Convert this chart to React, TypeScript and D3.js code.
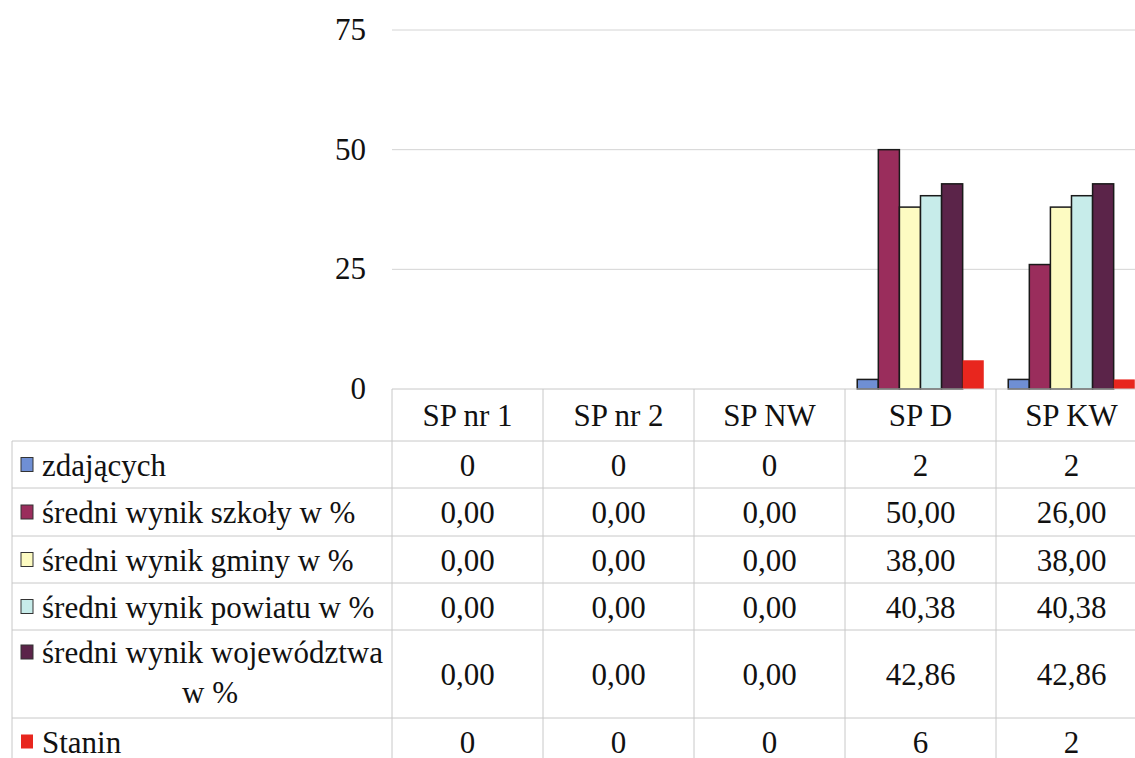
import React from "react";
import * as d3 from "d3";

const categories = ["SP nr 1", "SP nr 2", "SP NW", "SP D", "SP KW"];
const seriesNames = [
  "zdających",
  "średni wynik szkoły w %",
  "średni wynik gminy w %",
  "średni wynik powiatu w %",
  "średni wynik województwa w %",
  "Stanin",
];
const zdajacych = [0, 0, 0, 2, 2];
const szkoly = [0, 0, 0, 50.0, 26.0];
const gminy = [0, 0, 0, 38.0, 38.0];
const powiatu = [0, 0, 0, 40.38, 40.38];
const wojewodztwa = [0, 0, 0, 42.86, 42.86];
const stanin = [0, 0, 0, 6, 2];
const yTicks = [0, 25, 50, 75];

const seriesValues = [zdajacych, szkoly, gminy, powiatu, wojewodztwa, stanin];
const seriesDecimals = [0, 2, 2, 2, 2, 0];
const colors = ["#6f8fd4", "#9a2d5c", "#fdfbc2", "#c7ecea", "#5b2449", "#e8261e"];
const strokes = ["#1a1a1a", "#1a1a1a", "#1a1a1a", "#1a1a1a", "#1a1a1a", "none"];

const W = 1135;
const H = 758;
const FONT = "'Liberation Serif', 'Noto Serif', 'Nimbus Roman', 'FreeSerif', 'Tinos', 'DejaVu Serif', 'Liberation Sans', sans-serif";
const FS = 31;
const txt = { fontFamily: FONT };

export default function App() {
  const x = d3.scaleBand<string>().domain(categories).range([392, 1147]).padding(0);
  const y = d3.scaleLinear().domain([0, 75]).range([389, 30]);
  const inner = d3
    .scaleBand<number>()
    .domain(d3.range(seriesNames.length))
    .range([0, x.bandwidth()])
    .paddingOuter(0.58)
    .paddingInner(0);

  const rowLines = [441, 488, 536, 583, 630, 718, 765];
  const rowCenters = rowLines.slice(0, -1).map((v, i) => (v + rowLines[i + 1]) / 2);
  const headerCenter = (389 + 441) / 2;
  const fmt = (v: number, d: number) => (d === 0 ? d3.format("d")(v) : d3.format(".2f")(v).replace(".", ","));
  const gridColor = "#d4d4d4";
  const tableColor = "#c8c8c8";

  return (
    <svg
      width={W}
      height={H}
      style={{ position: "absolute", left: 0, top: 0, background: "#fff", fontFamily: FONT }}
    >
      <rect x={0} y={0} width={W} height={H} fill="#fff" />
      {yTicks.filter((t) => t > 0).map((t) => (
        <line key={t} x1={392} x2={1147} y1={y(t)} y2={y(t)} stroke={gridColor} strokeWidth={1} />
      ))}
      {yTicks.map((t) => (
        <text key={t} style={txt} x={366} y={y(t) + 10} textAnchor="end" fontSize={FS} fill="#111">
          {t}
        </text>
      ))}
      {categories.map((c, ci) => (
        <g key={c} transform={`translate(${x(c)},0)`}>
          {seriesValues.map((vals, si) =>
            vals[ci] > 0 ? (
              <rect
                key={si}
                x={inner(si)}
                y={y(vals[ci])}
                width={inner.bandwidth()}
                height={y(0) - y(vals[ci])}
                fill={colors[si]}
                stroke={strokes[si]}
                strokeWidth={1.5}
              />
            ) : null
          )}
        </g>
      ))}
      <line x1={392} x2={1147} y1={389} y2={389} stroke={tableColor} />
      {rowLines.map((ly) => (
        <line key={ly} x1={12} x2={1147} y1={ly} y2={ly} stroke={tableColor} />
      ))}
      <line x1={12} x2={12} y1={441} y2={H} stroke={tableColor} />
      {categories.map((c) => (
        <line key={c} x1={x(c)} x2={x(c)} y1={389} y2={H} stroke={tableColor} />
      ))}
      {categories.map((c) => (
        <text key={c} style={txt} x={(x(c) as number) + x.bandwidth() / 2} y={headerCenter + 11} textAnchor="middle" fontSize={FS} fill="#111">
          {c}
        </text>
      ))}
      {seriesNames.map((name, si) => {
        const cy = rowCenters[si];
        const isWoj = si === 4;
        const sqY = isWoj ? 645 : cy - 7;
        return (
          <g key={name}>
            <rect x={21} y={sqY} width={12} height={14} fill={colors[si]} stroke={si === 5 ? "none" : "#333"} strokeWidth={1} />
            {isWoj ? (
              <>
                <text style={txt} x={42} y={663} fontSize={FS} fill="#111">średni wynik województwa</text>
                <text style={txt} x={210} y={703} fontSize={FS} fill="#111" textAnchor="middle">w %</text>
              </>
            ) : (
              <text style={txt} x={42} y={cy + 11} fontSize={FS} fill="#111">{name}</text>
            )}
          </g>
        );
      })}
      {seriesValues.map((vals, si) =>
        categories.map((c, ci) => (
          <text
            key={`${si}-${ci}`}
            style={txt}
            x={(x(c) as number) + x.bandwidth() / 2}
            y={rowCenters[si] + 11}
            textAnchor="middle"
            fontSize={FS}
            fill="#111"
          >
            {fmt(vals[ci], seriesDecimals[si])}
          </text>
        ))
      )}
    </svg>
  );
}
